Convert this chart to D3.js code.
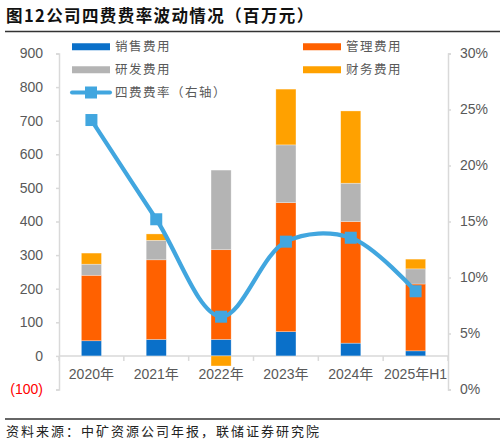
<!DOCTYPE html>
<html>
<head>
<meta charset="utf-8">
<script src="https://cdn.jsdelivr.net/npm/d3@7"></script>
<style>
	body { margin: 0; background: #fff; }
	svg text { font-family: "Liberation Sans", Arial, "Noto Sans CJK SC", sans-serif; }
	.cjk { font-family: "Noto Sans CJK SC", sans-serif; }
</style>
</head>
<body>
<div id="chart"></div>
<script>
	"use strict";

	var categories = ["2020年", "2021年", "2022年", "2023年", "2024年", "2025年H1"],
		sales = [45, 49, 49, 72, 38, 15],
		admin = [195, 237, 267, 384, 362, 199],
		rnd = [33, 58, 237, 172, 114, 45],
		finance = [33, 19, -30, 166, 215, 29],
		rate = [0.2406, 0.152, 0.065, 0.132, 0.1355, 0.0877],
		leftTicks = [-100, 0, 100, 200, 300, 400, 500, 600, 700, 800, 900],
		rightTicks = [0, 0.05, 0.10, 0.15, 0.20, 0.25, 0.30];

	var seriesNames = ["销售费用", "管理费用", "研发费用", "财务费用"],
		seriesColors = ["#0A70C9", "#FF6100", "#B4B4B4", "#FFA100"],
		lineColor = "#41A6DF",
		textColor = "#595959",
		axisColor = "#D9D9D9";

	var width = 504,
		height = 444,
		plot = { left: 59, right: 448, top: 53.5, bottom: 389.5 };

	var svg = d3.select("#chart")
		.append("svg")
		.attr("width", width)
		.attr("height", height);

	var x = d3.scaleBand()
		.domain(categories)
		.range([plot.left, plot.right])
		.paddingInner(0.69)
		.paddingOuter(0.345);

	var y = d3.scaleLinear()
		.domain([-100, 900])
		.range([plot.bottom, plot.top]);

	var y2 = d3.scaleLinear()
		.domain([0, 0.30])
		.range([plot.bottom, plot.top]);

	// title and rules
	svg.append("text")
		.attr("class", "cjk")
		.attr("x", 6)
		.attr("y", 22)
		.attr("font-size", 16.5)
		.attr("font-weight", "bold")
		.attr("letter-spacing", 1.4)
		.attr("fill", "#111")
		.text("图12公司四费费率波动情况（百万元）");

	svg.append("line")
		.attr("x1", 5).attr("x2", 500)
		.attr("y1", 31.5).attr("y2", 31.5)
		.attr("stroke", "#333")
		.attr("stroke-width", 1.3);

	svg.append("line")
		.attr("x1", 5).attr("x2", 500)
		.attr("y1", 419).attr("y2", 419)
		.attr("stroke", "#333")
		.attr("stroke-width", 1.3);

	svg.append("text")
		.attr("class", "cjk")
		.attr("x", 6)
		.attr("y", 436)
		.attr("font-size", 13)
		.attr("letter-spacing", 2)
		.attr("fill", "#222")
		.text("资料来源：中矿资源公司年报，联储证券研究院");

	// stacked data (negative values stack below zero)
	var rows = categories.map(function(c, i) {
		return { cat: c, vals: [sales[i], admin[i], rnd[i], finance[i]] };
	});

	var segments = [];
	rows.forEach(function(r) {
		var pos = 0, neg = 0;
		r.vals.forEach(function(v, k) {
			var y0, y1;
			if (v >= 0) { y0 = pos; y1 = pos + v; pos = y1; }
			else { y0 = neg + v; y1 = neg; neg = y0; }
			segments.push({ cat: r.cat, k: k, y0: y0, y1: y1 });
		});
	});

	// axes
	var leftAxis = svg.append("g")
		.attr("transform", "translate(" + plot.left + ",0)")
		.call(d3.axisLeft(y).tickValues(leftTicks).tickSize(3).tickPadding(13)
			.tickFormat(function(d) { return d < 0 ? "(" + (-d) + ")" : d; }));

	var rightAxis = svg.append("g")
		.attr("transform", "translate(" + plot.right + ",0)")
		.call(d3.axisRight(y2).tickValues(rightTicks).tickSize(3).tickPadding(9)
			.tickFormat(d3.format(".0%")));

	[leftAxis, rightAxis].forEach(function(a) {
		a.select(".domain").attr("stroke", axisColor).attr("stroke-width", 1.5);
		a.selectAll(".tick line").attr("stroke", axisColor).attr("stroke-width", 1.5);
		a.selectAll(".tick text")
			.attr("font-size", 14)
			.attr("fill", textColor)
			.attr("font-family", "Liberation Sans, Arial, sans-serif");
	});

	leftAxis.selectAll(".tick text")
		.filter(function(d) { return d < 0; })
		.attr("fill", "#FF0000");

	// category axis on zero line
	var catAxis = svg.append("g")
		.attr("transform", "translate(0," + y(0) + ")");

	catAxis.append("line")
		.attr("x1", plot.left).attr("x2", plot.right)
		.attr("stroke", axisColor)
		.attr("stroke-width", 1.5);

	catAxis.selectAll("line.tick")
		.data(d3.range(categories.length + 1))
		.enter()
		.append("line")
		.classed("tick", true)
		.attr("x1", function(i) { return plot.left + i * x.step(); })
		.attr("x2", function(i) { return plot.left + i * x.step(); })
		.attr("y1", 0).attr("y2", 5)
		.attr("stroke", axisColor)
		.attr("stroke-width", 1.5);

	// bars
	svg.append("g")
		.selectAll("rect")
		.data(segments)
		.enter()
		.append("rect")
		.attr("x", function(d) { return x(d.cat); })
		.attr("width", x.bandwidth())
		.attr("y", function(d) { return y(d.y1); })
		.attr("height", function(d) { return y(d.y0) - y(d.y1); })
		.attr("fill", function(d) { return seriesColors[d.k]; })
		.attr("stroke", "#fff")
		.attr("stroke-opacity", 0.5)
		.attr("stroke-width", 0.6);

	catAxis.selectAll("text")
		.data(categories)
		.enter()
		.append("text")
		.attr("x", function(d) { return x(d) + x.bandwidth() / 2; })
		.attr("y", 23.5)
		.attr("text-anchor", "middle")
		.attr("font-size", 14)
		.attr("fill", textColor)
		.text(function(d) { return d; });

	// rate line
	var line = d3.line()
		.x(function(d, i) { return x(categories[i]) + x.bandwidth() / 2; })
		.y(function(d) { return y2(d); })
		.curve(d3.curveCatmullRom.alpha(0.5));

	svg.append("path")
		.datum(rate)
		.attr("d", line)
		.attr("fill", "none")
		.attr("stroke", lineColor)
		.attr("stroke-width", 4.2)
		.attr("stroke-linejoin", "round");

	svg.append("g")
		.selectAll("rect")
		.data(rate)
		.enter()
		.append("rect")
		.attr("x", function(d, i) { return x(categories[i]) + x.bandwidth() / 2 - 6; })
		.attr("y", function(d) { return y2(d) - 6; })
		.attr("width", 12)
		.attr("height", 12)
		.attr("fill", lineColor);

	// legend
	var legendItems = [
		{ name: seriesNames[0], color: seriesColors[0], x: 72, y: 46.7, line: false },
		{ name: seriesNames[1], color: seriesColors[1], x: 303, y: 46.7, line: false },
		{ name: seriesNames[2], color: seriesColors[2], x: 72, y: 69.7, line: false },
		{ name: seriesNames[3], color: seriesColors[3], x: 303, y: 69.7, line: false },
		{ name: "四费费率（右轴）", color: lineColor, x: 72, y: 92.5, line: true }
	];

	var lg = svg.append("g")
		.selectAll("g")
		.data(legendItems)
		.enter()
		.append("g")
		.attr("transform", function(d) { return "translate(" + d.x + "," + d.y + ")"; });

	lg.append("line")
		.attr("x1", 0).attr("x2", 38)
		.attr("stroke", function(d) { return d.color; })
		.attr("stroke-width", function(d) { return d.line ? 4 : 7; })
		.attr("stroke-linecap", function(d) { return d.line ? "round" : "butt"; });

	lg.filter(function(d) { return d.line; })
		.append("rect")
		.attr("x", 13).attr("y", -6)
		.attr("width", 12).attr("height", 12)
		.attr("fill", function(d) { return d.color; });

	lg.append("text")
		.attr("class", "cjk")
		.attr("x", 43)
		.attr("y", 4.5)
		.attr("font-size", 12.5)
		.attr("letter-spacing", 1.5)
		.attr("fill", textColor)
		.text(function(d) { return d.name; });
</script>
</body>
</html>
